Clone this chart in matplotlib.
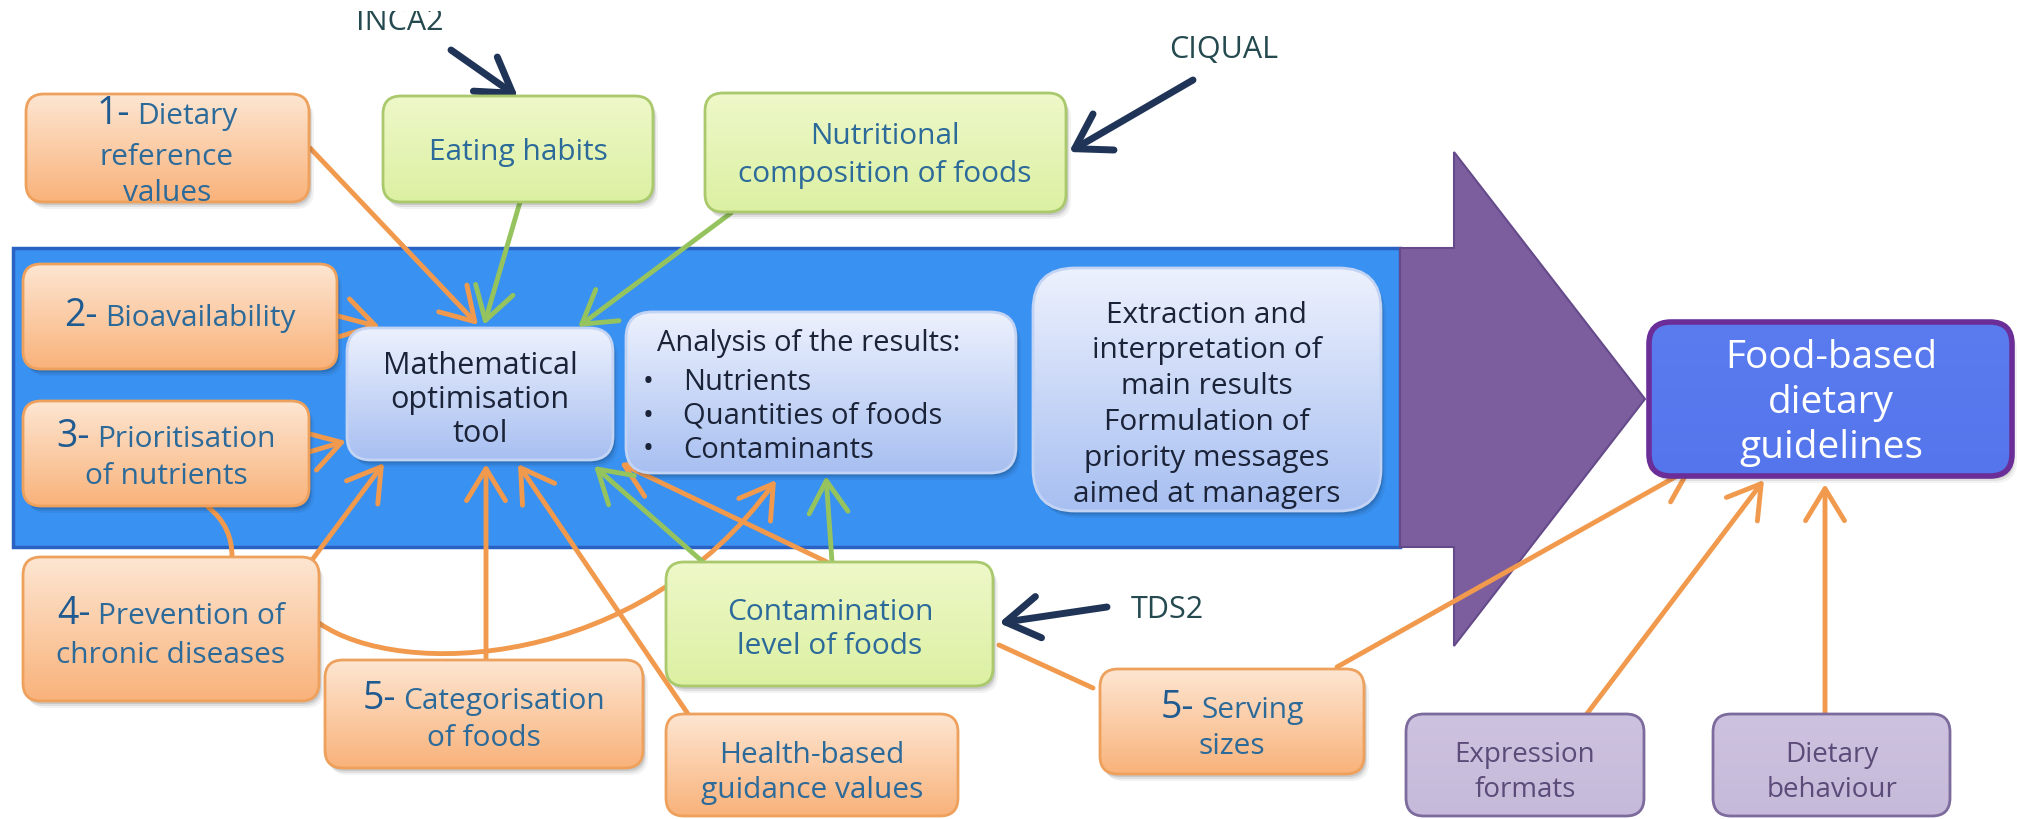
import numpy as np
import matplotlib
matplotlib.use("Agg")
import matplotlib.pyplot as plt
from matplotlib.patches import FancyBboxPatch, Rectangle, Polygon, FancyArrowPatch
from matplotlib.colors import LinearSegmentedColormap
from matplotlib.path import Path

plt.rcParams['font.family'] = ['Open Sans', 'DejaVu Sans']

# labels
inputs_top = ["Eating habits", "Nutritional\ncomposition of foods"]
sources = ["INCA2", "CIQUAL", "TDS2"]
steps = [("1-", "Dietary", "reference\nvalues"),
         ("2-", "Bioavailability", ""),
         ("3-", "Prioritisation", "of nutrients"),
         ("4-", "Prevention of", "chronic diseases"),
         ("5-", "Categorisation", "of foods"),
         ("5-", "Serving", "sizes")]
tool_label = "Mathematical\noptimisation\ntool"
analysis_head = "Analysis of the results:"
analysis_items = ["Nutrients", "Quantities of foods", "Contaminants"]
extraction_label = "Extraction and\ninterpretation of\nmain results\nFormulation of\npriority messages\naimed at managers"
result_label = "Food-based\ndietary\nguidelines"
contam_label = "Contamination\nlevel of foods"
health_label = "Health-based\nguidance values"
expr_labels = ["Expression\nformats", "Dietary\nbehaviour"]

W, H = 2017, 819
fig = plt.figure(figsize=(W / 100, H / 100), dpi=100)
ax = fig.add_axes([0, 0, 1, 1])
ax.set_xlim(0, W)
ax.set_ylim(H, 0)
ax.axis('off')
renderer = fig.canvas.get_renderer()

ORANGE = ('#fde6d2', '#f9b27a', '#eea15c')
GREEN = ('#eef8c9', '#dcf0a2', '#a9c96c')
LBLUE = ('#edf1fd', '#a7bff1', '#c3d3f4')
PURP = ('#cdc2df', '#c6bada', '#7c6b9c')
TXT_O = '#2c6a9a'
TXT_B = '#1b2338'


def base_step(size):
    # baseline distance between two lines at linespacing 1
    t1 = ax.text(0, 0, "lp", fontsize=size, linespacing=1.0)
    t2 = ax.text(0, 0, "lp\nlp", fontsize=size, linespacing=1.0)
    d = t2.get_window_extent(renderer).height - t1.get_window_extent(renderer).height
    t1.remove()
    t2.remove()
    return d


def gbox(x0, y0, x1, y1, cols, r=18, lw=2, z=3, shadow=True):
    w, h = x1 - x0, y1 - y0
    if shadow:
        for dx, dy, a in [(5, 7, 0.05), (3, 5, 0.08), (2, 3, 0.10)]:
            ax.add_patch(FancyBboxPatch((x0 + dx, y0 + dy), w, h,
                                        boxstyle=f"round,pad=0,rounding_size={r}",
                                        fc='black', ec='none', alpha=a, zorder=z - 0.2))
    p = FancyBboxPatch((x0, y0), w, h, boxstyle=f"round,pad=0,rounding_size={r}",
                       fc='none', ec=cols[2], lw=lw, zorder=z + 0.1)
    ax.add_patch(p)
    cm = LinearSegmentedColormap.from_list('g', [cols[0], cols[1]])
    grad = np.linspace(0, 1, 256)[:, None]
    im = ax.imshow(grad, cmap=cm, extent=(x0, x1, y1, y0), aspect='auto',
                   interpolation='bicubic', zorder=z)
    im.set_clip_path(p)


def lines(x, y_first, text, size, color, step, ha='center'):
    # y_first: visual centre of first line, step: baseline distance in px
    em = size * 100 / 72
    n = text.count("\n")
    ls = step / base_step(size)
    # va='baseline' anchors the last line
    ax.text(x, y_first + 0.36 * em + n * step, text, fontsize=size, color=color,
            ha=ha, va='baseline', multialignment=ha, linespacing=ls, zorder=5)


def numbered(xc, y, num, rest, size=21.5, nsize=27):
    em = size * 100 / 72
    t1 = ax.text(0, y + 0.36 * em, num, fontsize=nsize, color='#1f5a90',
                 ha='left', va='baseline', zorder=5)
    t2 = ax.text(0, y + 0.36 * em, rest, fontsize=size, color=TXT_O,
                 ha='left', va='baseline', zorder=5)
    w1 = t1.get_window_extent(renderer).width + 7
    w2 = t2.get_window_extent(renderer).width
    x0 = xc - (w1 + w2) / 2
    t1.set_x(x0)
    t2.set_x(x0 + w1)


def arrow(p0, p1, color, lw=3.5, head=True, rad=0.0, hl=1.15, hw=0.7, path=None):
    style = f'->,head_length={hl},head_width={hw}' if head else '-'
    if path is not None:
        a = FancyArrowPatch(path=path, arrowstyle=style, color=color, lw=lw,
                            mutation_scale=20, zorder=2, capstyle='round')
    else:
        a = FancyArrowPatch(p0, p1, arrowstyle=style, color=color, lw=lw,
                            connectionstyle=f'arc3,rad={rad}', mutation_scale=20,
                            shrinkA=0, shrinkB=0, zorder=2, capstyle='round')
    ax.add_patch(a)


# blue band and purple arrow
ax.add_patch(Rectangle((13, 248), 1387, 299, fc='#3991f1', ec='#2a62c4', lw=2.5, zorder=1))
ax.add_patch(Polygon([(1400, 248), (1454, 248), (1454, 152), (1645, 399),
                      (1454, 646), (1454, 547), (1400, 547)], closed=True,
                     fc='#7c5e9e', ec='#654a8a', lw=1.5, zorder=1))

# arrows: orange into the tool
AO, AG, AN = '#f19a4e', '#95c35e', '#1f3456'
arrow((310, 148), (478, 325), AO)
arrow((338, 316), (380, 327), AO)
arrow((309, 452), (346, 441), AO)
arrow((312, 560), (384, 463), AO)
arrow((486, 660), (486, 464), AO)
arrow((688, 714), (518, 464), AO)
arrow((827, 562), (620, 463), AO)
arrow((208, 507), (232, 558), AO, head=False, rad=-0.25)
curve = Path([(319, 623), (400, 680), (640, 670), (776, 480)],
             [Path.MOVETO, Path.CURVE4, Path.CURVE4, Path.CURVE4])
arrow(None, None, AO, path=curve)
# green
arrow((520, 202), (484, 325), AG)
arrow((731, 213), (578, 327), AG)
arrow((703, 562), (594, 466), AG)
arrow((832, 562), (826, 476), AG)
# contamination to serving
arrow((999, 645), (1093, 688), AO, head=False)
# into final box
arrow((1337, 667), (1693, 467), AO)
arrow((1586, 715), (1764, 480), AO)
arrow((1825, 715), (1825, 484), AO)
# sources
arrow((451, 50), (518, 97), AN, lw=5, hl=1.2, hw=0.75)
arrow((1193, 80), (1069, 152), AN, lw=5, hl=1.2, hw=0.75)
arrow((1107, 607), (999, 623), AN, lw=5, hl=1.2, hw=0.75)

# source labels
ax.text(400, 30, sources[0], fontsize=22, color='#24494f', ha='center', va='baseline', zorder=5)
ax.add_patch(Rectangle((300, 0), 200, 11, fc='white', ec='none', zorder=6))
ax.text(1224, 50, sources[1], fontsize=22, color='#24494f', ha='center', va='center', zorder=5)
ax.text(1167, 610, sources[2], fontsize=22, color='#24494f', ha='center', va='center', zorder=5)

# orange boxes
S = 21.5
gbox(26, 94, 309, 202, ORANGE)
numbered(167, 113, steps[0][0], steps[0][1])
lines(167, 152, steps[0][2], S, TXT_O, 38)
gbox(23, 264, 337, 369, ORANGE)
numbered(180, 315, steps[1][0], steps[1][1])
gbox(23, 401, 309, 506, ORANGE)
numbered(166, 436, steps[2][0], steps[2][1])
lines(166, 473, steps[2][2], S, TXT_O, 37)
gbox(23, 557, 319, 701, ORANGE)
numbered(171, 613, steps[3][0], steps[3][1])
lines(171, 652, steps[3][2], S, TXT_O, 37)
gbox(325, 660, 643, 768, ORANGE)
numbered(484, 698, steps[4][0], steps[4][1])
lines(484, 735, steps[4][2], S, TXT_O, 37)
gbox(1100, 669, 1364, 774, ORANGE)
numbered(1232, 707, steps[5][0], steps[5][1])
lines(1232, 743, steps[5][2], S, TXT_O, 37)
gbox(666, 714, 958, 816, ORANGE, shadow=False)
lines(812, 750, health_label, S, TXT_O, 37)

# green boxes
gbox(383, 96, 653, 202, GREEN)
lines(518, 149, inputs_top[0], S, TXT_O, 37)
gbox(705, 93, 1066, 212, GREEN)
lines(885, 131, inputs_top[1], S, TXT_O, 40)
gbox(666, 562, 993, 686, GREEN)
lines(830, 608, contam_label, S, TXT_O, 35)

# light blue boxes on the band
gbox(347, 328, 613, 460, LBLUE, r=24)
lines(480, 360, tool_label, 22, TXT_B, 35.5)
gbox(626, 312, 1016, 473, LBLUE, r=26)
lines(657, 341, analysis_head, 21, TXT_B, 35, ha='left')
lines(643, 377, "\n".join("\u2022" for _ in analysis_items), 21, TXT_B, 35, ha='left')
lines(683, 377, "\n".join(analysis_items), 21, TXT_B, 35, ha='left')
gbox(1033, 268, 1381, 511, LBLUE, r=42)
lines(1207, 301, extraction_label, 21.5, TXT_B, 38)

# final box
gbox(1649, 322, 2012, 476, ('#5a7cef', '#5575ec', '#6b2d98'), r=22, lw=4)
lines(1831, 350, result_label, 28, 'white', 47)

# purple boxes
gbox(1406, 714, 1644, 816, PURP, r=18, shadow=False)
lines(1525, 750, expr_labels[0], 20, '#5b4b78', 37)
gbox(1713, 714, 1950, 816, PURP, r=18, shadow=False)
lines(1832, 750, expr_labels[1], 20, '#5b4b78', 37)

ax.set_xlim(0, W)
ax.set_ylim(H, 0)
fig.savefig('out.png', dpi=100)
